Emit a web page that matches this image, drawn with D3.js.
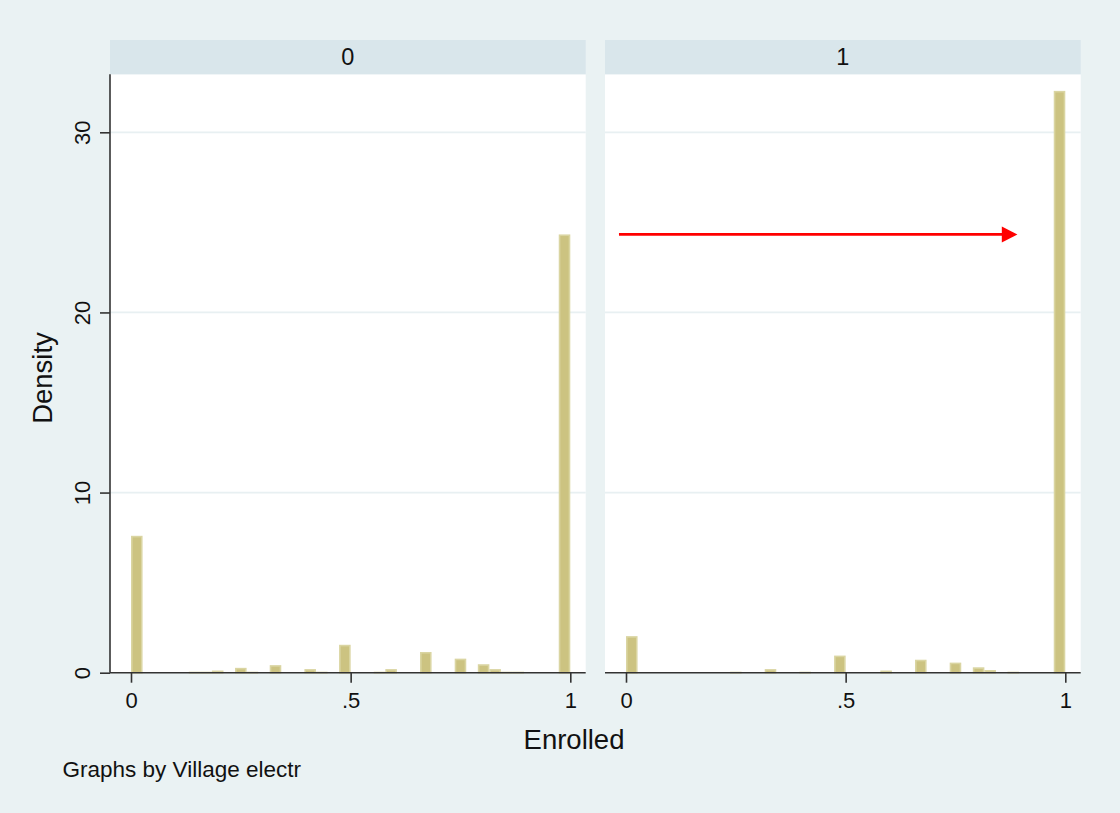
<!DOCTYPE html>
<html>
<head>
<meta charset="utf-8">
<script src="https://cdn.jsdelivr.net/npm/d3@7"></script>
<style>
  html, body { margin: 0; padding: 0; background: #eaf2f3; }
  svg { display: block; font-family: "Liberation Sans", Arial, sans-serif; }
</style>
</head>
<body>
<svg id="chart" width="1120" height="813"></svg>
<script>
// Histogram of Enrolled by village electrification (38 bins on [0, 1])
const binCount = 38;
const binIndex = d3.range(binCount);
const panels = ["0", "1"];
const densityNoElec = [
  7.6, 0, 0, 0, 0, 0.05, 0.05, 0.12, 0, 0.27,
  0.05, 0, 0.42, 0, 0, 0.2, 0.05, 0, 1.55, 0,
  0, 0.05, 0.2, 0, 0, 1.15, 0, 0, 0.78, 0,
  0.47, 0.2, 0.05, 0.05, 0, 0, 0, 24.33
];
const densityElec = [
  2.03, 0, 0, 0, 0, 0, 0, 0, 0, 0.05,
  0, 0, 0.2, 0, 0, 0.05, 0, 0, 0.95, 0,
  0, 0, 0.12, 0, 0, 0.72, 0, 0, 0.56, 0,
  0.3, 0.15, 0, 0.05, 0, 0, 0, 32.3
];
const xTicks = [0, 0.5, 1];
const xTickLabels = ["0", ".5", "1"];
const yTicks = [0, 10, 20, 30];
const gridTicks = [10, 20, 30];
// Reference arrow in panel "1": level of the top bar in panel "0"
const arrowFrom = [-0.016, 24.33];
const arrowTo = [0.891, 24.33];

const series = [densityNoElec, densityElec];

const svg = d3.select("#chart");
svg.append("rect").attr("width", 1120).attr("height", 813).attr("fill", "#eaf2f3");

const panelLeft = [110, 605];
const panelW = 475.7;
const stripTop = 40, stripBottom = 74.3, plotBottom = 672.7;
const tickFont = 22;

const y = d3.scaleLinear().domain([0, 30]).range([plotBottom, 132.3]);

panels.forEach((label, p) => {
  const x0 = panelLeft[p];
  const x = d3.scaleLinear().domain([0, 1]).range([x0 + 21, x0 + 460.3]);
  const g = svg.append("g");

  // plot region
  g.append("rect").attr("x", x0).attr("y", stripBottom)
    .attr("width", panelW).attr("height", plotBottom - stripBottom).attr("fill", "#ffffff");

  // strip
  g.append("rect").attr("x", x0).attr("y", stripTop)
    .attr("width", panelW).attr("height", stripBottom - stripTop).attr("fill", "#d9e6eb");
  g.append("text").attr("x", x0 + panelW / 2).attr("y", 64.5)
    .attr("text-anchor", "middle").attr("font-size", 23.5).attr("fill", "#111")
    .text(label);

  // grid lines
  g.selectAll("line.grid").data(gridTicks).join("line")
    .attr("x1", x0).attr("x2", x0 + panelW)
    .attr("y1", d => y(d)).attr("y2", d => y(d))
    .attr("stroke", "#e8f0f2").attr("stroke-width", 1.8);

  // bars
  const bw = 1 / binCount;
  const data = binIndex.map(i => ({ i, v: series[p][i] })).filter(d => d.v > 0);
  g.selectAll("rect.bar").data(data).join("rect")
    .attr("x", d => x(d.i * bw) + 0.8)
    .attr("width", d => x((d.i + 1) * bw) - x(d.i * bw) - 1.6)
    .attr("y", d => Math.min(y(d.v), plotBottom - 1) + 0.8)
    .attr("height", d => Math.max(plotBottom - y(d.v) - 0.8, 0.2))
    .attr("fill", "#ccc381")
    .attr("stroke", "#dad5a2").attr("stroke-width", 1.6);

  // x axis
  const xAxis = d3.axisBottom(x).tickValues(xTicks)
    .tickFormat((d, i) => xTickLabels[i]).tickSize(10);
  const ax = g.append("g").attr("transform", `translate(0,${plotBottom})`).call(xAxis);
  ax.select(".domain").attr("d", `M${x0},0H${x0 + panelW}`)
    .attr("stroke", "#333").attr("stroke-width", 1.6);
  ax.selectAll(".tick line").attr("stroke", "#333").attr("stroke-width", 1.6);
  ax.selectAll(".tick text").attr("font-size", tickFont).attr("fill", "#111")
    .attr("font-family", "Liberation Sans, Arial, sans-serif")
    .attr("y", 35.5).attr("dy", 0);

  if (p === 0) {
    // y axis
    const yAxis = d3.axisLeft(y).tickValues(yTicks).tickSize(10).tickFormat(d3.format("d"));
    const ay = g.append("g").attr("transform", `translate(${x0},0)`).call(yAxis);
    ay.select(".domain").attr("d", `M0,${stripBottom}V${plotBottom}`)
      .attr("stroke", "#333").attr("stroke-width", 1.6);
    ay.selectAll(".tick line").attr("stroke", "#333").attr("stroke-width", 1.6);
    ay.selectAll(".tick text").remove();
    ay.selectAll(".tick").append("text")
      .attr("transform", "translate(-20.5,0) rotate(-90)")
      .attr("text-anchor", "middle").attr("font-size", tickFont).attr("fill", "#111")
      .attr("font-family", "Liberation Sans, Arial, sans-serif")
      .text(d => d3.format("d")(d));
  } else {
    // arrow
    const ax1 = x(arrowFrom[0]), ay1 = y(arrowFrom[1]);
    const ax2 = x(arrowTo[0]), ay2 = y(arrowTo[1]);
    const headLen = 15.6, headHalf = 8;
    g.append("line").attr("x1", ax1).attr("y1", ay1)
      .attr("x2", ax2 - headLen + 1).attr("y2", ay2)
      .attr("stroke", "#ff0000").attr("stroke-width", 2.7);
    g.append("path")
      .attr("d", `M${ax2},${ay2}L${ax2 - headLen},${ay2 - headHalf}L${ax2 - headLen},${ay2 + headHalf}Z`)
      .attr("fill", "#ff0000");
  }
});

// axis titles and note
svg.append("text").attr("transform", "translate(51.5,378) rotate(-90)")
  .attr("text-anchor", "middle").attr("font-size", 27.5).attr("fill", "#111")
  .text("Density");
svg.append("text").attr("x", 574).attr("y", 749)
  .attr("text-anchor", "middle").attr("font-size", 27.5).attr("fill", "#111")
  .text("Enrolled");
svg.append("text").attr("x", 62.5).attr("y", 777)
  .attr("font-size", 22.5).attr("fill", "#111")
  .text("Graphs by Village electr");
</script>
</body>
</html>
